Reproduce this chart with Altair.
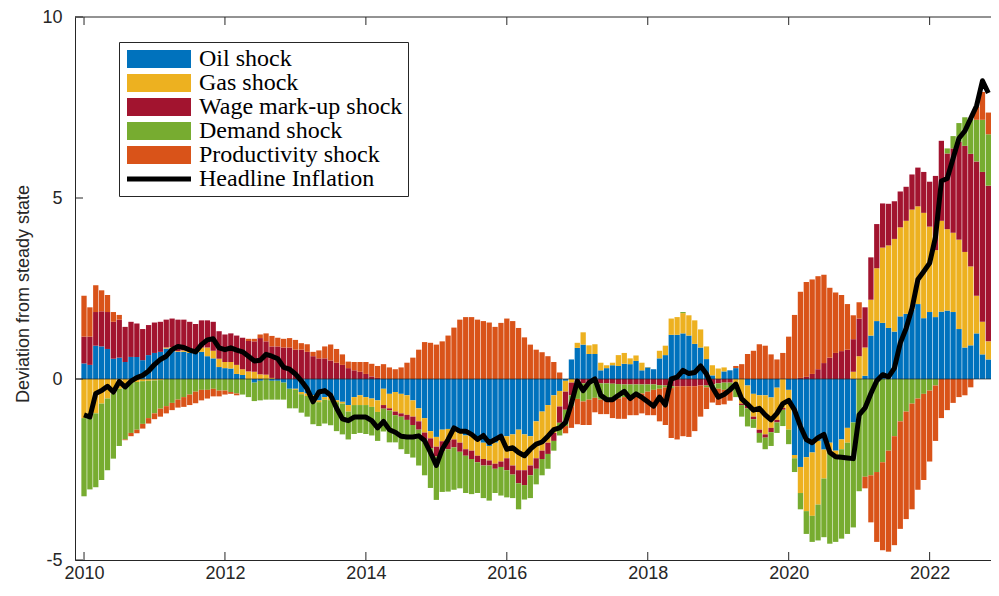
import altair as alt
import pandas as pd

# Monthly contributions, Jan 2010 ... Nov 2022 (one row per year)
oil = [
    .43, .39, .92, .90, .83, .56, .59, .47, .61, .61, .52, .66,
    .72, .75, .84, .86, .75, .75, .72, .72, .75, .63, .57, .33,
    .30, .29, .14, .11, 0, -.10, -.05, 0, -.05, -.05, -.10, -.27,
    -.27, -.36, -.40, -.45, -.59, -.50, -.45, -.59, -.63, -.72, -.50, -.45,
    -.50, -.54, -.59, -.27, -.41, -.36, -.41, -.45, -.59, -.81, -1.08, -1.44,
    -1.60, -1.40, -1.38, -1.35, -1.49, -1.56, -1.56, -1.67, -1.76, -1.85, -1.76, -1.67,
    -1.58, -1.53, -1.40, -1.53, -1.58, -1.17, -.90, -.72, -.45, -.33, -.05, .54,
    .86, .95, .69, .69, .24, .30, .38, .36, .42, .41, .50, .24,
    .32, .27, .57, .66, 1.22, 1.22, 1.26, 1.20, .97, .87, .55, .10,
    0, .21, .24, .30, 0, -.18, -.41, -.45, -.45, -.51, -.24, 0,
    -.30, -2.10, -2.43, -2.16, -2.03, -1.71, -1.95, -1.76, -1.98, -1.67, -1.35, -1.20,
    0, .09, 1.20, 1.60, 1.55, 1.41, 1.31, 1.73, 1.80, 1.91, 2.07, 1.68,
    1.85, 1.71, 1.86, 1.89, 1.85, 1.38, .87, .93, 1.26, .68, .54,
]
gas = [
    -1.08, -1.08, -.95, -.68, -.54, -.40, -.27, -.18, -.10, -.08, -.06, -.05,
    -.04, -.03, .03, .02, .02, .04, .06, .08, .12, .24, .21, .23,
    .17, .18, .25, .16, .21, .20, .13, .12, .03, 0, 0, 0,
    -.03, -.06, -.07, -.03, -.05, -.07, -.14, -.05, -.05, -.18, -.22, -.27,
    -.22, -.23, -.32, -.45, -.40, -.54, -.54, -.54, -.45, -.36, -.40, -.20,
    -.27, -.32, -.33, -.32, -.27, -.38, -.42, -.45, -.45, -.40, -.58, -.61,
    -.61, -.86, -1.12, -.99, -.81, -1.02, -1.08, -1.04, -1.04, -.43, -.30, -.10,
    .14, .34, .24, .27, .21, .08, .07, .30, .30, .16, .15, .21,
    .01, 0, .21, .26, .45, .49, .56, .56, .65, .50, .35, .28,
    .29, .11, 0, -.15, -.68, -.50, -.63, -.95, -1.08, -.84, -.89, -.80,
    -1.10, -.09, -.72, -1.49, -1.75, -1.76, -.80, -.27, -.14, -.27, -.41, .20,
    .63, .78, .99, 1.46, 2.08, 2.28, 2.56, 2.46, 2.57, 2.77, 2.70, 2.91,
    2.36, 1.85, 2.51, 2.25, 2.19, 2.47, 2.64, 2.18, 1.04, .90, .50,
]
wage = [
    .74, .78, .93, .97, 1.02, 1.02, 1.05, .97, .97, .92, .86, .83,
    .84, .83, .77, .79, .87, .85, .80, .72, .75, .75, .80, .76,
    .76, .79, .81, .87, .84, .84, 1.00, .92, .87, .90, .87, .87,
    .81, .81, .75, .63, .57, .57, .51, .45, .39, .30, .24, .20,
    .14, .07, .03, -.10, -.06, -.10, -.09, -.14, -.23, -.23, -.18, -.27,
    -.27, -.27, -.23, -.22, -.25, -.18, -.23, -.18, -.18, -.14, -.14, -.15,
    -.33, -.25, -.36, -.41, -.27, -.29, -.23, -.31, -.22, -.45, -.50, -.35,
    -.10, -.12, -.12, -.12, -.12, -.12, -.13, -.14, -.15, -.15, -.15, -.15,
    -.15, -.15, -.17, -.18, -.20, -.20, -.20, -.20, -.20, -.18, -.18, -.15,
    -.12, -.10, -.10, -.10, -.04, -.13, -.07, -.09, -.09, -.12, -.07, -.05,
    0, 0, .03, .06, .14, .27, .44, .59, .72, .77, .81, .90,
    1.04, 1.11, 1.17, 1.22, 1.22, 1.15, 1.04, .99, .94, .97, 1.07, 1.13,
    1.24, 2.05, 2.21, 2.09, 2.33, 2.70, 2.93, 3.11, 3.71, 4.14, 4.30,
]
demand = [
    -2.16, -1.97, -2.04, -2.11, -1.98, -1.80, -1.58, -1.49, -1.39, -1.32, -1.18, -1.03,
    -.91, -.79, -.75, -.66, -.57, -.50, -.43, -.35, -.30, -.30, -.27, -.32,
    -.32, -.36, -.40, -.43, -.50, -.51, -.54, -.57, -.52, -.52, -.47, -.54,
    -.51, -.51, -.57, -.77, -.66, -.66, -.69, -.80, -.85, -.77, -.80, -.77,
    -.80, -.79, -.80, -.63, -.88, -.75, -.90, -.94, -.90, -.99, -1.00, -1.10,
    -1.20, -1.13, -1.17, -1.17, -1.01, -1.03, -.97, -.85, -.90, -.97, -.67, -.79,
    -.75, -.65, -.72, -.40, -.63, -.43, -.45, -.41, -.27, -.35, -.45, -.30,
    -.45, -.50, -.45, -.40, -.45, -.45, -.45, -.40, -.35, -.30, -.25, -.25,
    -.20, -.15, -.10, -.05, -.05, 0, .03, 0, 0, 0, -.05, -.10,
    -.15, -.20, -.20, -.25, -.32, -.50, -.24, -.27, -.32, -.38, -.29, -.45,
    -.40, -.38, -.45, -.63, -.72, -.99, -1.62, -2.52, -2.38, -2.47, -2.52, -2.90,
    -3.10, -2.70, -2.66, -2.57, -2.30, -1.98, -1.58, -1.17, -.90, -.68, -.54, -.41,
    -.32, -.18, 0, .14, .34, .52, .79, .96, 1.15, 1.44, 1.42,
]
prod = [
    1.13, .81, .74, .58, .47, .27, .13, -.02, -.09, -.10, -.13, -.15,
    -.16, -.22, -.20, -.20, -.22, -.27, -.29, -.32, -.29, -.24, -.21, -.16,
    -.11, -.05, -.05, 0, .06, .07, .10, .22, .29, .24, .24, .26,
    .27, .18, .21, .12, .22, .33, .44, .38, .29, .18, .23, .27,
    .33, .35, .33, .41, .32, .27, .32, .45, .59, .81, 1.02, 1.00,
    .95, 1.04, 1.20, 1.42, 1.64, 1.71, 1.71, 1.64, 1.60, 1.56, 1.44, 1.55,
    1.67, 1.60, 1.41, 1.15, .95, .81, .74, .63, .47, .18, -.20, -.60,
    -.70, -.65, -.70, -.40, -.40, -.40, -.50, -.56, -.60, -.55, -.60, -.55,
    -.65, -.70, -.90, -1.04, -1.38, -1.47, -1.38, -1.40, -1.24, -.86, -.60, -.40,
    -.45, -.40, -.30, .06, .41, .69, .78, .96, .92, .68, .54, .72,
    1.17, 1.77, 2.38, 2.62, 2.61, 2.57, 2.44, 1.93, 1.67, 1.55, 1.26, .66,
    .45, -.32, -1.30, -1.93, -2.43, -2.79, -3.01, -2.97, -2.97, -2.92, -2.52, -2.38,
    -1.96, -1.53, -1.08, -.86, -.66, -.50, -.45, -.23, .36, .77, .60,
]
headline = [
    -.99, -1.05, -.40, -.32, -.20, -.36, -.07, -.22, -.06, .04, .10, .22,
    .40, .54, .63, .81, .90, .87, .80, .75, .95, 1.08, 1.11, .86,
    .81, .86, .80, .75, .63, .50, .52, .68, .63, .56, .32, .27,
    .14, -.05, -.27, -.63, -.36, -.32, -.45, -.80, -1.10, -1.15, -1.05, -1.05,
    -1.05, -1.15, -1.35, -1.17, -1.40, -1.47, -1.58, -1.60, -1.60, -1.57, -1.70, -2.03,
    -2.39, -1.94, -1.67, -1.35, -1.44, -1.44, -1.53, -1.67, -1.56, -1.76, -1.67, -1.58,
    -1.94, -1.90, -2.03, -2.12, -1.94, -1.80, -1.74, -1.58, -1.40, -1.35, -1.20, -.68,
    -.06, -.32, -.10, 0, -.45, -.57, -.57, -.45, -.34, -.54, -.41, -.51,
    -.63, -.75, -.50, -.72, 0, .05, .24, .15, .18, .36, .14, -.23,
    -.50, -.43, -.30, -.14, -.55, -.70, -.86, -.81, -.99, -1.13, -.95, -.68,
    -.59, -.86, -1.31, -1.67, -1.76, -1.62, -1.53, -2.03, -2.15, -2.16, -2.18, -2.20,
    -.99, -.80, -.40, -.05, .12, .06, .30, .99, 1.40, 1.95, 2.75, 2.97,
    3.20, 3.92, 5.47, 5.54, 6.10, 6.65, 6.85, 7.20, 7.55, 8.24, 7.90,
]

shock_names = ["Oil shock", "Gas shock", "Wage mark-up shock", "Demand shock", "Productivity shock"]
line_name = "Headline Inflation"
colors = ["#0072BD", "#EDB120", "#A2142F", "#77AC30", "#D95319", "#000000"]
x_ticks = [2010, 2012, 2014, 2016, 2018, 2020, 2022]
y_ticks = [-5, 0, 5, 10]
start_year = 2010

series = [oil, gas, wage, demand, prod]
n = len(headline)
for s in series:
    assert len(s) == n, (len(s), n)
t = [start_year + i / 12 for i in range(n)]

rows = []
for k, (name, vals) in enumerate(zip(shock_names, series)):
    for ti, v in zip(t, vals):
        rows.append({"t": ti, "shock": name, "value": v, "ord": k})
bars_df = pd.DataFrame(rows)
line_df = pd.DataFrame({"t": t, "value": headline})

W, H = 916, 543
xs = alt.Scale(domain=[2009.943, 2022.80], nice=False, zero=False)
ys = alt.Scale(domain=[-5, 10], nice=False, zero=False)

box_path = "M-1,-1H6.11V1H-1Z"
thin_path = "M-1,-0.28H6.11V0.28H-1Z"
shape_expr = "datum.value === '%s' ? '%s' : '%s'" % (line_name, thin_path, box_path)

legend = alt.Legend(
    title=None, orient="none", legendX=44, legendY=25, direction="vertical",
    fillColor="white", strokeColor="#262626", padding=5,
    labelFont="Liberation Serif", labelFontSize=24, labelColor="black",
    labelLimit=600, labelOffset=51,
    symbolType=alt.ExprRef(expr=shape_expr), symbolSize=324, symbolStrokeWidth=0, symbolOpacity=1,
    rowPadding=0,
)

bars = alt.Chart(bars_df).mark_bar(width=5.3, clip=True).encode(
    x=alt.X("t:Q", scale=xs, axis=alt.Axis(
        values=x_ticks, labelExpr="'' + datum.value", tickSize=0, grid=False, title=None,
        labelPadding=4, labelFlush=False, labelFont="Liberation Sans", labelFontSize=18,
        labelColor="#262626", domainColor="#262626")),
    y=alt.Y("value:Q", scale=ys, stack="zero", axis=alt.Axis(
        values=y_ticks, labelExpr="'' + datum.value", tickSize=0, grid=False,
        title="Deviation from steady state", titleX=-47, titleY=H / 2 + 5,
        titleBaseline="alphabetic", titleFont="Liberation Sans", titleFontSize=18,
        titleFontWeight="normal", titleColor="#262626", labelPadding=13,
        labelFont="Liberation Sans", labelFontSize=18, labelColor="#262626",
        domainColor="#262626")),
    color=alt.Color("shock:N", scale=alt.Scale(domain=shock_names + [line_name], range=colors), legend=legend),
    order=alt.Order("ord:Q", sort="ascending"),
)

zero_rule = alt.Chart(pd.DataFrame({"value": [0]})).mark_rule(color="#262626", strokeWidth=0.7).encode(y="value:Q")

line = alt.Chart(line_df).mark_line(color="black", strokeWidth=5, clip=True, strokeJoin="round").encode(
    x="t:Q", y="value:Q")

xt_df = pd.DataFrame({"t": x_ticks})
xticks_bottom = alt.Chart(xt_df).mark_rule(color="#262626", strokeWidth=1).encode(
    x="t:Q", y=alt.value(H), y2=alt.value(H - 8))
xticks_top = alt.Chart(xt_df).mark_rule(color="#262626", strokeWidth=1).encode(
    x="t:Q", y=alt.value(0), y2=alt.value(8))
yt_df = pd.DataFrame({"value": y_ticks})
yticks = alt.Chart(yt_df).mark_rule(color="#262626", strokeWidth=1).encode(
    y="value:Q", x=alt.value(0), x2=alt.value(8))
top_border = alt.Chart(pd.DataFrame({"value": [10]})).mark_rule(color="#262626", strokeWidth=1).encode(
    y="value:Q", x=alt.value(0), x2=alt.value(W))

chart = alt.layer(bars, zero_rule, line, xticks_bottom, xticks_top, yticks, top_border).properties(
    width=W, height=H,
    padding={"left": 67, "top": 9, "right": 0, "bottom": 24},
    autosize=alt.AutoSizeParams(type="none"),
    background="white",
).configure_view(stroke=None)

chart.save("out.html", embed_options={"renderer": "svg", "actions": False})
